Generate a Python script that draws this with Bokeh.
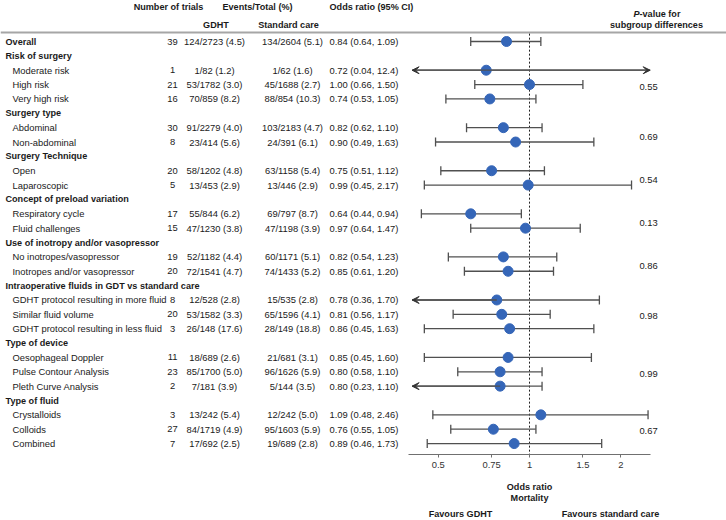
import numpy as np
from bokeh.plotting import figure
from bokeh.layouts import column
from bokeh.models import (Range1d, LogScale, LogAxis, FixedTicker, ColumnDataSource,
                          Arrow, VeeHead, CustomJSTickFormatter)
from bokeh.core.properties import value
from bokeh.embed import file_html
from bokeh.resources import INLINE

# ---------------- data ----------------
group_names = ["Risk of surgery", "Surgery type", "Surgery Technique",
               "Concept of preload variation", "Use of inotropy and/or vasopressor",
               "Intraoperative fluids in GDT vs standard care", "Type of device", "Type of fluid"]
group_sizes = [3, 2, 2, 2, 2, 3, 3, 3]
p_values = ["0.55", "0.69", "0.54", "0.13", "0.86", "0.98", "0.99", "0.67"]

subgroups = ["Overall",
             "Moderate risk", "High risk", "Very high risk",
             "Abdominal", "Non-abdominal",
             "Open", "Laparoscopic",
             "Respiratory cycle", "Fluid challenges",
             "No inotropes/vasopressor", "Inotropes and/or vasopressor",
             "GDHT protocol resulting in more fluid", "Similar fluid volume",
             "GDHT protocol resulting in less fluid",
             "Oesophageal Doppler", "Pulse Contour Analysis", "Pleth Curve Analysis",
             "Crystalloids", "Colloids", "Combined"]
trials = [39, 1, 21, 16, 30, 8, 20, 5, 17, 15, 19, 20, 8, 20, 3, 11, 23, 2, 3, 27, 7]
gdht_events = [124, 1, 53, 70, 91, 23, 58, 13, 55, 47, 52, 72, 12, 53, 26, 18, 85, 7, 13, 84, 17]
gdht_total = [2723, 82, 1782, 859, 2279, 414, 1202, 453, 844, 1230, 1182, 1541, 528, 1582, 148,
              689, 1700, 181, 242, 1719, 692]
gdht_pct = [4.5, 1.2, 3.0, 8.2, 4.0, 5.6, 4.8, 2.9, 6.2, 3.8, 4.4, 4.7, 2.8, 3.3, 17.6,
            2.6, 5.0, 3.9, 5.4, 4.9, 2.5]
std_events = [134, 1, 45, 88, 103, 24, 63, 13, 69, 47, 60, 74, 15, 65, 28, 21, 96, 5, 12, 95, 19]
std_total = [2604, 62, 1688, 854, 2183, 391, 1158, 446, 797, 1198, 1171, 1433, 535, 1596, 149,
             681, 1626, 144, 242, 1603, 689]
std_pct = [5.1, 1.6, 2.7, 10.3, 4.7, 6.1, 5.4, 2.9, 8.7, 3.9, 5.1, 5.2, 2.8, 4.1, 18.8,
           3.1, 5.9, 3.5, 5.0, 5.9, 2.8]
or_est = [0.84, 0.72, 1.00, 0.74, 0.82, 0.90, 0.75, 0.99, 0.64, 0.97, 0.82, 0.85, 0.78, 0.81, 0.86,
          0.85, 0.80, 0.80, 1.09, 0.76, 0.89]
or_lo = [0.64, 0.04, 0.66, 0.53, 0.62, 0.49, 0.51, 0.45, 0.44, 0.64, 0.54, 0.61, 0.36, 0.56, 0.45,
         0.45, 0.58, 0.23, 0.48, 0.55, 0.46]
or_hi = [1.09, 12.4, 1.50, 1.05, 1.10, 1.63, 1.12, 2.17, 0.94, 1.47, 1.23, 1.20, 1.70, 1.17, 1.63,
         1.60, 1.10, 1.10, 2.46, 1.05, 1.73]

tick_values = [0.5, 0.75, 1, 1.5, 2]
tick_labels = ["0.5", "0.75", "1", "1.5", "2"]
null_effect = 1.0

# ---------------- layout constants (pixels) ----------------
W = 726
MAIN_H, FOOT_H = 476, 44
FRAME_H = 454
ROW0, PITCH = 41.0, 14.36       # first row centre / row pitch
X1, PX_LN = 529.0, 131.7        # pixel of OR = 1, pixels per ln-unit
CLIP_LO, CLIP_HI = 0.41, 2.5
FONT = "Liberation Sans"
FS, FSB = "9.4px", "9.1px"
TXT = "#1a1a1a"
CI_COL = "#505050"
DOT = "#3566b8"


def fy(px):
    return -(px - ROW0) / PITCH


# row positions
data_rows = [0]
head_rows = []
p_rows = []
r = 1
for n in group_sizes:
    head_rows.append(r)
    items = list(range(r + 1, r + 1 + n))
    data_rows += items
    p_rows.append(float(np.mean(items)) + 0.15)
    r += n + 1
ys = -np.array(data_rows, dtype=float)

p = figure(width=W, height=MAIN_H, x_range=Range1d(0, W), y_range=Range1d(fy(FRAME_H), fy(0)),
           x_axis_type=None, y_axis_type=None, toolbar_location=None, output_backend="svg",
           min_border_left=0, min_border_right=0, min_border_top=0,
           min_border_bottom=MAIN_H - FRAME_H,
           outline_line_color=None, title=None, background_fill_color="white",
           border_fill_color="white")
p.extra_x_ranges = {"or": Range1d(np.exp(-X1 / PX_LN), np.exp((W - X1) / PX_LN))}
p.extra_x_scales = {"or": LogScale()}


def add_text(fig, xs, yv, texts, align="left", bold=False, italic=False):
    src = ColumnDataSource(dict(x=list(xs), y=list(yv), t=list(texts)))
    style = "bold italic" if (bold and italic) else ("bold" if bold else "normal")
    fig.text(x="x", y="y", text="t", source=src, text_font=value(FONT),
             text_font_size=value(FSB if bold else FS), text_font_style=style,
             text_align=align, text_baseline="middle", text_color=TXT)


# ---------------- headers ----------------
y_h1, y_h2, y_p1 = fy(6.0), fy(24.0), fy(13.0)
add_text(p, [168], [y_h1], ["Number of trials"], "center", True)
add_text(p, [257], [y_h1], ["Events/Total (%)"], "center", True)
add_text(p, [329], [y_h1], ["Odds ratio (95% CI)"], "left", True)
add_text(p, [215.5], [y_h2], ["GDHT"], "center", True)
add_text(p, [288], [y_h2], ["Standard care"], "center", True)
add_text(p, [639], [y_p1], ["P"], "right", True, italic=True)
add_text(p, [639], [y_p1], ["-value for"], "left", True)
add_text(p, [656], [y_h2], ["subgroup differences"], "center", True)

line_y = fy(32.0)
p.segment(x0=[0], y0=[line_y], x1=[W], y1=[line_y], line_color="#a6a6a6", line_width=2)

# ---------------- table ----------------
add_text(p, [5], [ys[0]], [subgroups[0]], "left", True)
add_text(p, [5] * len(head_rows), -np.array(head_rows, float), group_names, "left", True)
add_text(p, [12] * (len(subgroups) - 1), ys[1:], subgroups[1:], "left")
add_text(p, [172] * len(trials), ys, [str(t) for t in trials], "center")
add_text(p, [214] * len(trials), ys,
         [f"{e}/{n} ({pc:.1f})" for e, n, pc in zip(gdht_events, gdht_total, gdht_pct)], "center")
add_text(p, [292] * len(trials), ys,
         [f"{e}/{n} ({pc:.1f})" for e, n, pc in zip(std_events, std_total, std_pct)], "center")


def fmt(v):
    return f"{v:.1f}" if v >= 10 else f"{v:.2f}"


add_text(p, [329] * len(trials), ys,
         [f"{fmt(o)} ({fmt(l)}, {fmt(h)})" for o, l, h in zip(or_est, or_lo, or_hi)], "left")
add_text(p, [648] * len(p_values), -np.array(p_rows), p_values, "center")

# ---------------- forest ----------------
lo = np.array(or_lo)
hi = np.array(or_hi)
lo_c = np.clip(lo, CLIP_LO, CLIP_HI)
hi_c = np.clip(hi, CLIP_LO, CLIP_HI)

p.segment(x0=[null_effect], y0=[line_y - 0.08], x1=[null_effect], y1=[fy(FRAME_H)],
          x_range_name="or", line_color="#222222", line_width=1, line_dash="2 2")

p.segment(x0=lo_c, y0=ys, x1=hi_c, y1=ys, x_range_name="or", line_color=CI_COL, line_width=1.3)
ml = lo >= CLIP_LO
mh = hi <= CLIP_HI
p.scatter(x=np.concatenate([lo[ml], hi[mh]]), y=np.concatenate([ys[ml], ys[mh]]),
          marker="dash", angle=np.pi / 2, size=9, line_color=CI_COL, line_width=1.3,
          x_range_name="or")

al = ~ml
ah = ~mh
arr_src = ColumnDataSource(dict(
    xs=np.concatenate([np.array(or_est)[al], np.array(or_est)[ah]]),
    xe=np.concatenate([lo_c[al], hi_c[ah]]),
    y=np.concatenate([ys[al], ys[ah]])))
p.add_layout(Arrow(source=arr_src, x_start="xs", y_start="y", x_end="xe", y_end="y",
                   x_range_name="or", line_color=CI_COL, line_width=1.3,
                   end=VeeHead(size=7, fill_color="#333333", line_color="#333333", line_width=1)))

p.scatter(x=or_est, y=ys, size=10, marker="circle", fill_color=DOT, line_color=DOT,
          x_range_name="or")

ax = LogAxis(x_range_name="or", ticker=FixedTicker(ticks=tick_values), bounds=(0.40, 2.51))
ax.formatter = CustomJSTickFormatter(args=dict(vals=tick_values, labs=tick_labels),
                                     code="const i = vals.indexOf(tick); return i >= 0 ? labs[i] : '';")
ax.minor_tick_line_color = None
ax.major_tick_in = 0
ax.major_tick_out = 3
ax.axis_line_color = "#707070"
ax.major_tick_line_color = "#707070"
ax.major_label_text_font = FONT
ax.major_label_text_font_size = FS
ax.major_label_text_color = "#333333"
ax.major_label_standoff = 4
p.add_layout(ax, "below")

# ---------------- footer (axis title and direction labels) ----------------
f = figure(width=W, height=FOOT_H, x_range=Range1d(0, W), y_range=Range1d(FOOT_H, 0),
           x_axis_type=None, y_axis_type=None, toolbar_location=None, output_backend="svg",
           min_border=0, outline_line_color=None, title=None,
           background_fill_color="white", border_fill_color="white")
fx = FOOT_H and MAIN_H
add_text(f, [X1, X1, 460, 610], [486 - MAIN_H, 497 - MAIN_H, 513 - MAIN_H, 513 - MAIN_H],
         ["Odds ratio", "Mortality", "Favours GDHT", "Favours standard care"], "center", True)

layout = column(p, f, spacing=0)
open("out.html", "w").write(file_html(layout, INLINE))
